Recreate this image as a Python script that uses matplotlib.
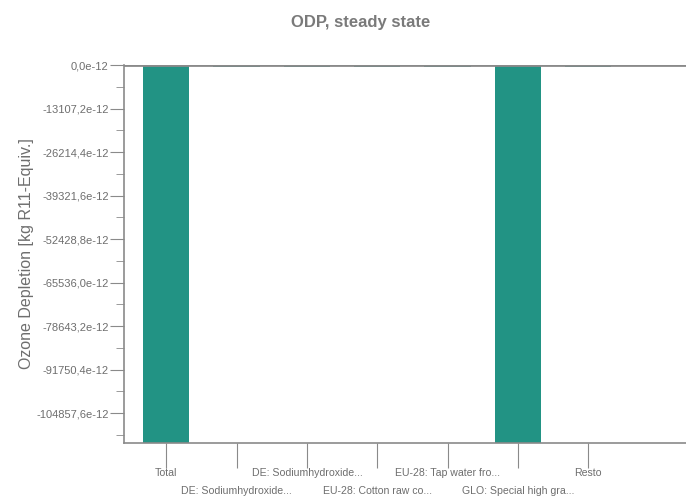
import matplotlib.pyplot as plt
import matplotlib.ticker as mticker
import numpy as np

plt.rcParams['font.family'] = ['Liberation Sans', 'DejaVu Sans']

categories = ["Total", "DE: Sodiumhydroxide...", "DE: Sodiumhydroxide...",
              "EU-28: Cotton raw co...", "EU-28: Tap water fro...",
              "GLO: Special high gra...", "Resto"]
# values in 1e-12 kg R11-Equiv.
values = [-113800, -700, -700, -700, -700, -113800, -700]
yticks = [0, -13107.2, -26214.4, -39321.6, -52428.8, -65536.0,
          -78643.2, -91750.4, -104857.6]

gray = '#8a8a8a'
text_gray = '#6e6e6e'

fig = plt.figure(figsize=(6.86, 4.97), dpi=100)
ax = fig.add_axes([0.1808, 0.1087, 0.8192, 0.7605])

x = np.arange(len(categories))
ax.bar(x, values, width=0.66, color='#229384', zorder=2)

ax.set_xlim(-0.6, 7.39)
ax.set_ylim(-113810, 0)

ax.axhline(0, color=gray, lw=2.0, zorder=3)

ax.set_yticks(yticks)
ax.yaxis.set_major_formatter(mticker.FuncFormatter(
    lambda v, p: ('%.1f' % v).replace('.', ',') + 'e-12'))
ax.yaxis.set_minor_locator(mticker.MultipleLocator(13107.2 / 2))
ax.tick_params(axis='y', which='major', length=10, color=gray, labelcolor=text_gray,
               labelsize=8, pad=1)
ax.tick_params(axis='y', which='minor', length=6, color=gray)

# x labels staggered in two rows
ax.set_xticks(x)
ax.set_xticklabels([])
ax.tick_params(axis='x', length=18, color=gray)
for i, c in enumerate(categories):
    yrow = -0.079 if i % 2 == 0 else -0.128
    ax.text(i, yrow, c, transform=ax.get_xaxis_transform(), ha='center',
            va='center', fontsize=7.6, color=text_gray)

for s in ['top', 'right']:
    ax.spines[s].set_visible(False)
for s in ['left', 'bottom']:
    ax.spines[s].set_color(gray)
    ax.spines[s].set_linewidth(1.2)

ax.set_ylabel("Ozone Depletion [kg R11-Equiv.]", fontsize=11.5, color=text_gray)
ax.yaxis.set_label_coords(-0.160, 0.5)
fig.text(0.526, 0.954, "ODP, steady state", ha='center', va='center',
         fontsize=12, fontweight='bold', color='#7a7a7a')

fig.savefig('out.png', dpi=100)
